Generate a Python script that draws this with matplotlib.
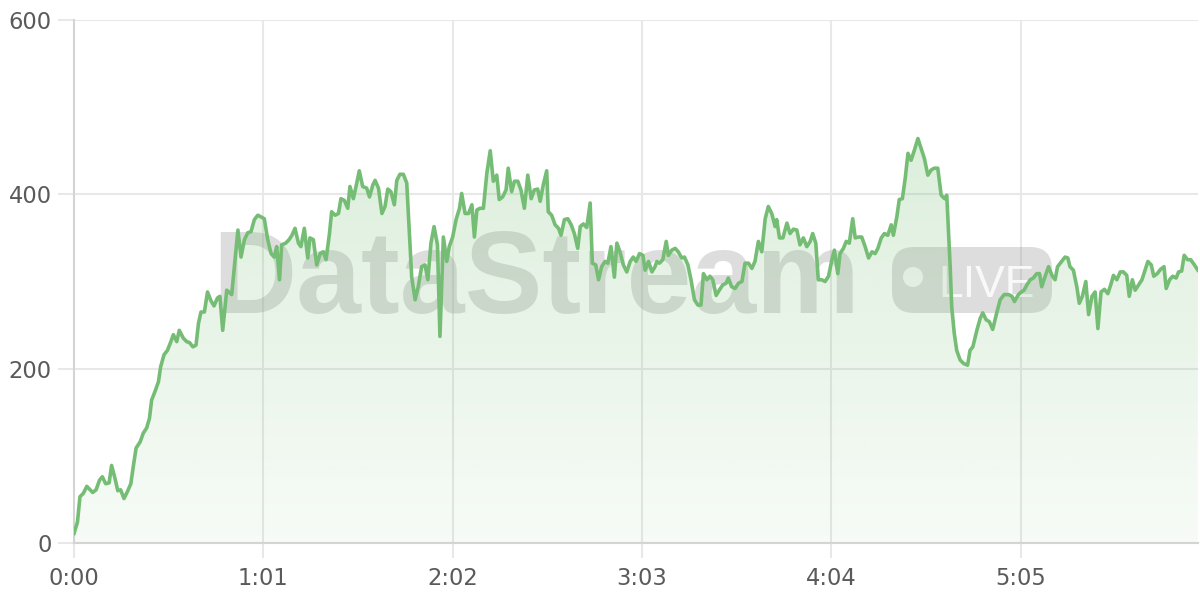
import numpy as np
import matplotlib
matplotlib.use("Agg")
import matplotlib.pyplot as plt
from matplotlib.patches import FancyBboxPatch, Circle

# values (time in seconds, value)
seconds = [0, 1.1, 1.9, 3.0, 4.1, 6.0, 7.1, 8.2, 9.1, 10.2, 11.3, 12.1, 13.2, 14.1, 15.0, 16.1,
           17.2, 18.3, 19.1, 20.0, 21.3, 22.3, 23.4, 24.3, 25.0, 26.1, 27.2, 27.9, 29.0, 30.1,
           31.2, 32.0, 33.1, 33.9, 35.2, 36.3, 37.2, 38.3, 39.3, 40.1, 40.9, 42.0, 43.0, 44.1,
           45.1, 46.2, 47.0, 47.9, 49.2, 50.8, 52.8, 53.8, 54.9, 56.0, 57.0, 58.1, 59.2, 60.3,
           61.3, 62.4, 63.5, 64.5, 65.3, 66.2, 66.9, 68.2, 69.3, 70.2, 71.2, 72.3, 73.1, 74.2,
           75.3, 76.0, 77.1, 78.2, 79.3, 80.3, 81.2, 82.3, 83.0, 84.1, 85.2, 86.0, 87.1, 88.2,
           88.9, 90.0, 91.1, 91.9, 93.0, 94.3, 95.2, 96.3, 97.0, 98.1, 99.2, 100.2, 101.1, 102.1,
           103.2, 104.0, 105.0, 106.1, 107.2, 108.8, 109.9, 110.9, 112.0, 113.1, 114.0, 115.0,
           116.0, 117.1, 117.9, 119.0, 120.1, 120.9, 122.0, 123.1, 124.2, 124.9, 126.0, 127.1,
           128.2, 129.0, 129.8, 130.8, 131.9, 133.0, 134.1, 135.1, 136.2, 137.0, 138.1, 139.2,
           139.9, 141.0, 141.9, 143.0, 144.0, 145.1, 146.2, 147.3, 148.3, 149.4, 150.2, 151.2,
           152.3, 152.8, 153.9, 155.0, 156.1, 156.9, 158.0, 159.1, 160.2, 161.2, 162.3, 163.1,
           164.1, 165.2, 166.3, 167.0, 168.1, 169.0, 170.0, 171.1, 172.0, 173.0, 174.1, 174.9,
           175.9, 177.0, 178.1, 179.2, 180.2, 181.1, 182.2, 183.3, 184.0, 185.1, 186.2, 187.2,
           187.8, 188.6, 189.7, 190.8, 191.5, 192.6, 193.7, 194.7, 195.8, 196.7, 197.8, 198.8,
           199.9, 201.0, 202.0, 202.8, 203.9, 204.9, 205.8, 206.9, 207.9, 209.0, 210.1, 210.8,
           211.9, 213.0, 214.1, 215.2, 216.2, 217.3, 218.4, 219.4, 220.5, 221.6, 222.7, 223.7,
           224.8, 225.9, 226.4, 227.3, 228.4, 229.7, 230.7, 231.8, 232.9, 233.9, 235.0, 236.1,
           237.2, 238.0, 239.0, 239.8, 240.9, 242.0, 243.1, 244.2, 245.0, 246.1, 246.8, 247.9,
           248.8, 249.8, 250.9, 251.7, 252.7, 253.8, 254.9, 256.0, 257.1, 258.1, 259.0, 260.1,
           261.1, 262.2, 263.3, 264.0, 265.1, 265.9, 266.9, 267.8, 268.7, 269.7, 270.8, 271.9,
           272.9, 274.0, 275.1, 276.2, 277.2, 278.3, 279.4, 280.5, 281.2, 282.3, 282.8, 283.6,
           284.4, 285.5, 286.6, 287.9, 288.7, 289.6, 290.9, 292.0, 292.8, 293.9, 294.9, 296.0,
           297.3, 298.4, 299.7, 301.1, 302.2, 303.0, 304.3, 305.2, 306.1, 307.0, 308.1, 309.1,
           310.2, 311.1, 311.8, 312.9, 314.0, 315.1, 316.1, 316.9, 318.0, 319.3, 320.2, 320.9,
           322.0, 323.1, 323.9, 324.9, 326.0, 326.9, 328.0, 329.0, 329.9, 330.9, 332.0, 333.1,
           334.2, 334.9, 336.0, 337.1, 338.1, 339.2, 340.0, 341.0, 341.9, 343.0, 344.1, 344.9,
           346.0, 347.1, 347.9, 349.0, 350.1, 351.2, 351.9, 353.0, 354.0, 355.1, 355.9, 356.9,
           357.7, 358.8, 359.8, 361.0, 362.1]
values = [11, 24, 53, 57, 65, 58, 61, 72, 76, 68, 69, 89, 74, 60, 61, 51,
          59, 68, 88, 109, 116, 126, 132, 143, 164, 174, 185, 202, 216, 221,
          231, 239, 231, 244, 235, 231, 230, 225, 227, 252, 265, 265, 288, 278,
          272, 281, 283, 244, 290, 285, 359, 328, 348, 356, 357, 371, 376, 374,
          372, 348, 332, 328, 340, 302, 342, 344, 348, 353, 361, 344, 340, 361,
          327, 350, 348, 319, 332, 334, 325, 355, 380, 376, 378, 395, 393, 384,
          409, 395, 413, 427, 409, 407, 397, 411, 416, 407, 378, 386, 406, 403,
          388, 416, 423, 423, 413, 305, 279, 294, 317, 319, 302, 344,
          363, 342, 237, 351, 323, 340, 351, 371, 384, 401, 378, 378,
          388, 351, 382, 384, 384, 424, 450, 415, 422, 394, 397, 405,
          430, 403, 415, 415, 405, 384, 422, 395, 405, 406, 392, 411,
          427, 380, 376, 365, 361, 353, 371, 372, 365, 355, 338, 363,
          366, 362, 390, 321, 319, 302, 317, 323, 321, 340, 305, 344,
          334, 319, 311, 323, 328, 323, 332, 330, 313, 323, 311, 317,
          323, 321, 325, 346, 330, 336, 338, 334, 327, 328, 319, 302,
          279, 273, 273, 309, 302, 306, 302, 284, 290, 296, 298, 304,
          294, 292, 298, 300, 321, 321, 315, 323, 346, 334, 372, 386,
          378, 363, 371, 350, 350, 367, 355, 360, 359, 342, 350, 340,
          346, 355, 344, 302, 302, 300, 306, 325, 336, 309, 332, 338,
          346, 344, 372, 350, 351, 351, 340, 327, 334, 332, 338, 350,
          355, 353, 365, 353, 374, 394, 395, 418, 447, 439, 451, 464,
          453, 441, 422, 428, 430, 430, 399, 395, 399, 317, 271, 241,
          221, 210, 206, 204, 221, 225, 244, 258, 264, 256, 254, 245,
          264, 279, 285, 285, 283, 277, 285, 288, 290, 296, 302, 304,
          309, 309, 294, 306, 317, 307, 302, 317, 322, 328, 327, 317,
          313, 294, 275, 283, 300, 262, 283, 288, 246, 288, 291, 286,
          298, 307, 302, 311, 311, 307, 283, 302, 290, 296, 302, 311,
          323, 319, 306, 309, 314, 317, 292, 302, 306, 304, 311, 312,
          330, 325, 325, 319, 313]

tick_step = 61
y_ticks = [0, 200, 400, 600]

line_color = "#75bd75"
grid_color = "#e8e8e8"
axis_color = "#d4d4d4"
label_color = "#5a5a5a"
mark_gray = (0.55, 0.55, 0.55, 0.29)

t = np.array(seconds)
v = np.array(values)

fig = plt.figure(figsize=(12, 6), dpi=100)
ax = fig.add_axes([0.0617, 0.095, 0.9365, 0.8717])

# watermark, sits under the fill
tr = fig.dpi_scale_trans
ax.text(2.12, 2.87, "DataStream", transform=tr, fontsize=84, fontweight="bold",
        family="Liberation Sans", color=mark_gray, ha="left", va="baseline", zorder=0.8)
ax.add_patch(FancyBboxPatch((8.92, 2.87), 1.6, 0.66, boxstyle="round,pad=0,rounding_size=0.22",
                            transform=tr, facecolor=mark_gray, edgecolor="none", zorder=0.8))
ax.add_patch(Circle((9.13, 3.23), 0.1, transform=tr, facecolor="white", alpha=0.85,
                    edgecolor="none", zorder=0.9))
ax.text(9.38, 3.03, "LIVE", transform=tr, fontsize=32, family="Liberation Sans",
        color="white", alpha=0.85, ha="left", va="baseline", zorder=0.9)

# gradient fill under the line
poly = ax.fill_between(t, v, 0, color="none", lw=0)
grad = np.zeros((256, 1, 4))
grad[:, 0, :3] = matplotlib.colors.to_rgb(line_color)
grad[:, 0, 3] = np.linspace(0.06, 0.25, 256)
img = ax.imshow(grad, extent=[t.min(), t.max(), 0, v.max()], origin="lower",
                aspect="auto", zorder=1, interpolation="bilinear")
img.set_clip_path(poly.get_paths()[0], transform=ax.transData)

ax.plot(t, v, color=line_color, lw=2.6, zorder=3, solid_joinstyle="round")

ax.set_xlim(0, t.max())
ax.set_ylim(0, 600)
xt = np.arange(0, t.max(), tick_step)
ax.set_xticks(xt)
ax.set_xticklabels([f"{int(s) // 60}:{int(s) % 60:02d}" for s in xt])
ax.set_yticks(y_ticks)
ax.set_yticklabels([str(y) for y in y_ticks])

ax.grid(True, color=grid_color, lw=1.5, zorder=0)
ax.set_axisbelow(True)
for side in ["top", "right"]:
    ax.spines[side].set_visible(False)
for side in ["left", "bottom"]:
    ax.spines[side].set_color(axis_color)
    ax.spines[side].set_linewidth(1.5)
ax.tick_params(axis="x", length=11, width=1.5, color=grid_color, pad=6,
               labelsize=16.3, labelcolor=label_color)
ax.tick_params(axis="y", length=11.5, width=1.5, color=grid_color, pad=4.5,
               labelsize=16.3, labelcolor=label_color)

fig.savefig("out.png", dpi=100)
